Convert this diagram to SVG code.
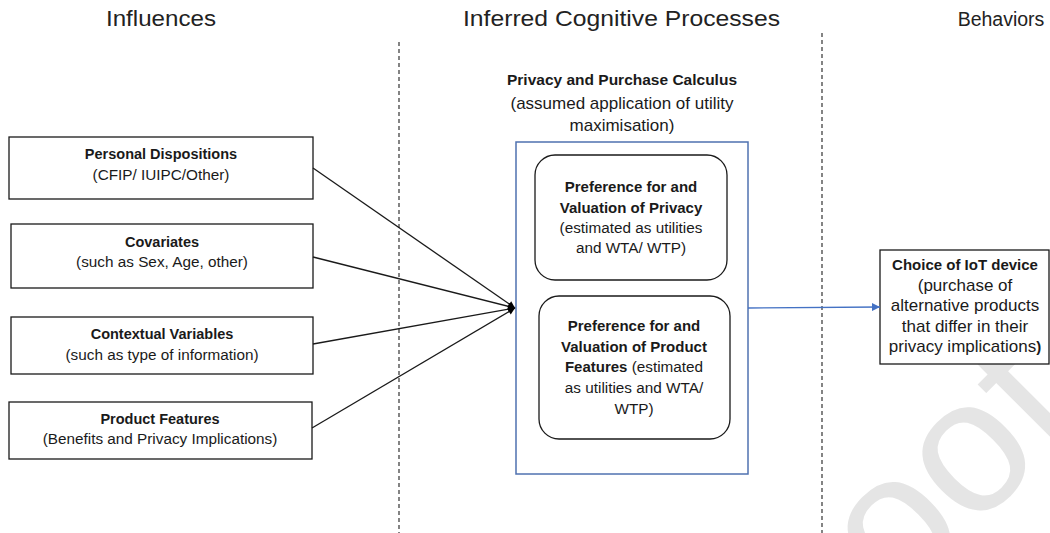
<svg xmlns="http://www.w3.org/2000/svg" width="1050" height="533" viewBox="0 0 1050 533">
<defs>
<style>
text{font-family:"Liberation Sans",Arial,sans-serif;fill:#1a1a1a;text-anchor:middle}
.hdr{font-size:22px;fill:#222}
.lb{font-size:14.5px;font-weight:bold}
.lr{font-size:15.3px}
.tb{font-size:15.5px;font-weight:bold}
.tr{font-size:17px}
.ib{font-size:15px;font-weight:bold}
.ir{font-size:15.3px}
.box{fill:#fff;stroke:#1a1a1a;stroke-width:1.3}
.rbox{fill:#fff;stroke:#1a1a1a;stroke-width:1.3}
.div{stroke:#333;stroke-width:1.2;stroke-dasharray:4,3}
.conn{stroke:#1a1a1a;stroke-width:1.3;fill:none}
.wm{font-size:190px;fill:#e5e5e5;text-anchor:end}
</style>
<marker id="ah" viewBox="0 0 10 10" refX="10" refY="5" markerWidth="10" markerHeight="7" markerUnits="userSpaceOnUse" orient="auto">
<path d="M0,0 L10,5 L0,10 z" fill="#000"/>
</marker>
<marker id="ahb" viewBox="0 0 10 10" refX="10" refY="5" markerWidth="9" markerHeight="8" markerUnits="userSpaceOnUse" orient="auto">
<path d="M0,0 L10,5 L0,10 z" fill="#4472c4"/>
</marker>
</defs>
<rect width="1050" height="533" fill="#fff"/>
<g id="watermark">
<text class="wm" transform="translate(1084,420) rotate(-45)">oof</text>
</g>
<g id="headers">
<text class="hdr" x="161" y="26" textLength="110" lengthAdjust="spacingAndGlyphs">Influences</text>
<text class="hdr" x="621.5" y="26" textLength="317" lengthAdjust="spacingAndGlyphs">Inferred Cognitive Processes</text>
<text class="hdr" x="1001" y="26" style="font-size:19.5px">Behaviors</text>
</g>
<g id="dividers">
<line class="div" x1="399" y1="42" x2="399" y2="533"/>
<line class="div" x1="822" y1="33" x2="822" y2="533"/>
</g>
<g id="n-personal">
<rect class="box" x="9" y="137" width="304" height="62"/>
<text class="lb" x="161" y="159">Personal Dispositions</text>
<text class="lr" x="161" y="180">(CFIP/ IUIPC/Other)</text>
</g>
<g id="n-covariates">
<rect class="box" x="11" y="224" width="302" height="64"/>
<text class="lb" x="162" y="247">Covariates</text>
<text class="lr" x="162" y="267">(such as Sex, Age, other)</text>
</g>
<g id="n-contextual">
<rect class="box" x="11" y="317" width="302" height="57"/>
<text class="lb" x="162" y="339">Contextual Variables</text>
<text class="lr" x="162" y="360">(such as type of information)</text>
</g>
<g id="n-product">
<rect class="box" x="9" y="402" width="303" height="57"/>
<text class="lb" x="160" y="424">Product Features</text>
<text class="lr" x="160" y="444">(Benefits and Privacy Implications)</text>
</g>
<g id="n-calculus">
<text class="tb" x="622" y="85">Privacy and Purchase Calculus</text>
<text class="tr" x="622" y="109">(assumed application of utility</text>
<text class="tr" x="622" y="131">maximisation)</text>
<rect x="516" y="142" width="232" height="332" fill="none" stroke="#4f72b0" stroke-width="1.5"/>
</g>
<g id="n-privacy">
<rect class="rbox" x="535" y="155" width="192" height="125" rx="20" ry="20"/>
<text class="ib" x="631" y="192">Preference for and</text>
<text class="ib" x="631" y="213">Valuation of Privacy</text>
<text class="ir" x="631" y="233">(estimated as utilities</text>
<text class="ir" x="631" y="253">and WTA/ WTP)</text>
</g>
<g id="n-features">
<rect class="rbox" x="539" y="296" width="191" height="143" rx="20" ry="20"/>
<text class="ib" x="634" y="331">Preference for and</text>
<text class="ib" x="634" y="352">Valuation of Product</text>
<text x="634" y="372"><tspan class="ib">Features</tspan><tspan class="ir"> (estimated</tspan></text>
<text class="ir" x="634" y="393">as utilities and WTA/</text>
<text class="ir" x="634" y="414">WTP)</text>
</g>
<g id="n-choice">
<rect class="box" x="880" y="250" width="169" height="114"/>
<text class="ib" x="965" y="270">Choice of IoT device</text>
<text class="tr" x="965" y="291">(purchase of</text>
<text class="tr" x="965" y="311">alternative products</text>
<text class="tr" x="965" y="332">that differ in their</text>
<text x="965" y="352"><tspan class="tr">privacy implications</tspan><tspan class="ib">)</tspan></text>
</g>
<g id="connectors">
<line class="conn" x1="313" y1="168" x2="515" y2="308" marker-end="url(#ah)"/>
<line class="conn" x1="313" y1="257" x2="515" y2="308" marker-end="url(#ah)"/>
<line class="conn" x1="313" y1="344" x2="515" y2="308" marker-end="url(#ah)"/>
<line class="conn" x1="312" y1="428" x2="515" y2="308" marker-end="url(#ah)"/>
<line x1="748" y1="308" x2="880" y2="307" stroke="#4472c4" stroke-width="1.3" marker-end="url(#ahb)"/>
</g>
</svg>
